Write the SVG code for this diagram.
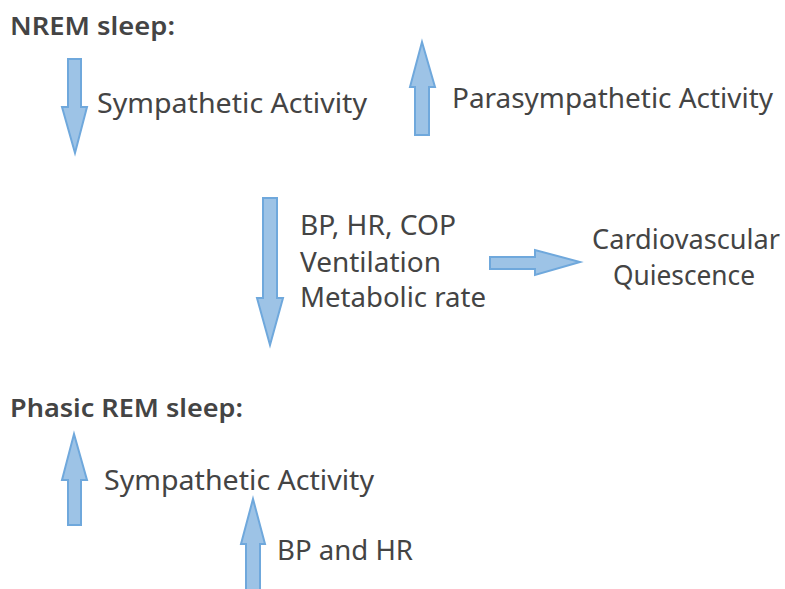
<svg xmlns="http://www.w3.org/2000/svg" width="785" height="589" viewBox="0 0 785 589">
<style>
.t{font-family:"Noto Sans","Open Sans","DejaVu Sans",sans-serif;font-size:28px;fill:#444;}
.h{font-family:"Noto Sans","Open Sans","DejaVu Sans",sans-serif;font-size:26px;font-weight:600;fill:#444;}
.a{fill:#9dc3e6;stroke:#6fa8dc;stroke-width:2;stroke-linejoin:miter;}
</style>
<rect width="785" height="589" fill="#fff"/>
<g id="heading-nrem"><text class="h" x="10" y="35" textLength="165" lengthAdjust="spacingAndGlyphs">NREM sleep:</text></g>
<g id="nrem-symp"><text class="t" x="97" y="113" textLength="270" lengthAdjust="spacingAndGlyphs">Sympathetic Activity</text></g>
<g id="nrem-para"><text class="t" x="452" y="108" textLength="321" lengthAdjust="spacingAndGlyphs">Parasympathetic Activity</text></g>
<g id="nrem-effects">
<text class="t" x="300" y="235" textLength="156" lengthAdjust="spacingAndGlyphs">BP, HR, COP</text>
<text class="t" x="300" y="272" textLength="141" lengthAdjust="spacingAndGlyphs">Ventilation</text>
<text class="t" x="300" y="307" textLength="186" lengthAdjust="spacingAndGlyphs">Metabolic rate</text>
</g>
<g id="cardio">
<text class="t" x="686" y="249" text-anchor="middle" textLength="188" lengthAdjust="spacingAndGlyphs">Cardiovascular</text>
<text class="t" x="684" y="285" text-anchor="middle" textLength="142" lengthAdjust="spacingAndGlyphs">Quiescence</text>
</g>
<g id="heading-rem"><text class="h" x="10" y="417" textLength="233" lengthAdjust="spacingAndGlyphs">Phasic REM sleep:</text></g>
<g id="rem-symp"><text class="t" x="104" y="490" textLength="270" lengthAdjust="spacingAndGlyphs">Sympathetic Activity</text></g>
<g id="rem-bp"><text class="t" x="277" y="560" textLength="136" lengthAdjust="spacingAndGlyphs">BP and HR</text></g>
<g id="connectors">
<polygon class="a" points="68,59 81,59 81,107 87,107 75,153 62,107 68,107"/>
<polygon class="a" points="422,42 435,87 429,87 429,135 415,135 415,87 410,87"/>
<polygon class="a" points="263,198 277,198 277,298 283,298 270,345 257,298 263,298"/>
<polygon class="a" points="490,257 535,257 535,250 580,262 535,275 535,269 490,269"/>
<polygon class="a" points="74,434 87,480 81,480 81,525 68,525 68,480 62,480"/>
<polygon class="a" points="253,499 265,544 260,544 260,592 246,592 246,544 241,544"/>
</g>
</svg>
